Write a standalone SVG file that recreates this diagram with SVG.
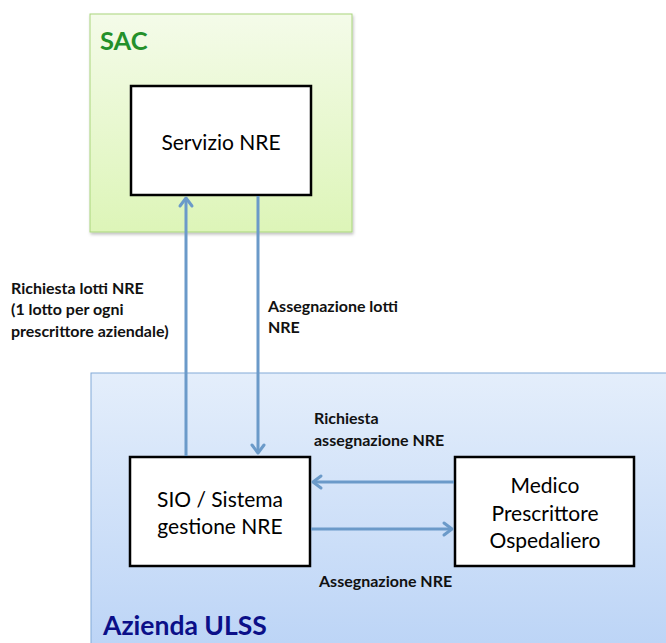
<svg xmlns="http://www.w3.org/2000/svg" width="666" height="643" viewBox="0 0 666 643">
<style>
.node{fill:#ffffff;stroke:#000000;stroke-width:2.5}
.ntxt{font-family:Lato,"Open Sans",sans-serif;font-size:21px;fill:#000;text-anchor:middle}
.lbl{font-family:Lato,"Open Sans",sans-serif;font-size:16px;font-weight:bold;fill:#111}
.conn{stroke:#6b9ac9;stroke-width:3;fill:none}
.ah{stroke:#6b9ac9;stroke-width:3;fill:none;stroke-linecap:round;stroke-linejoin:round}
</style>
<defs>
<linearGradient id="gSac" x1="0" y1="0" x2="0" y2="1">
<stop offset="0" stop-color="#f4fbe9"/>
<stop offset="1" stop-color="#ddf5b8"/>
</linearGradient>
<linearGradient id="gUlss" x1="0" y1="0" x2="0" y2="1">
<stop offset="0" stop-color="#e4eefb"/>
<stop offset="1" stop-color="#bad3f6"/>
</linearGradient>
<filter id="sh" x="-5%" y="-5%" width="110%" height="110%">
<feDropShadow dx="1" dy="2" stdDeviation="1.5" flood-color="#000" flood-opacity="0.25"/>
</filter>
</defs>
<g id="sac">
<rect x="90" y="14" width="262" height="218" fill="url(#gSac)" stroke="#a9d57c" stroke-width="1" filter="url(#sh)"/>
<text x="100" y="50" font-family="Lato,'Open Sans',sans-serif" font-size="25.5" font-weight="bold" fill="#23902a">SAC</text>
</g>
<g id="ulss">
<rect x="91" y="373" width="590" height="290" fill="url(#gUlss)" stroke="#82a9d8" stroke-width="1"/>
<text x="103" y="635" font-family="Lato,'Open Sans',sans-serif" font-size="26.5" font-weight="bold" fill="#0b0f88">Azienda ULSS</text>
</g>
<g id="servizio">
<rect class="node" x="131" y="86" width="180" height="109"/>
<text class="ntxt" x="221" y="150">Servizio NRE</text>
</g>
<g id="sio">
<rect class="node" x="130" y="457" width="180" height="109"/>
<text class="ntxt" x="220" y="507">SIO / Sistema</text>
<text class="ntxt" x="220" y="534">gestione NRE</text>
</g>
<g id="medico">
<rect class="node" x="455" y="457" width="179" height="109"/>
<text class="ntxt" x="545" y="493">Medico</text>
<text class="ntxt" x="545" y="521">Prescrittore</text>
<text class="ntxt" x="545" y="548">Ospedaliero</text>
</g>
<g id="connectors">
<line class="conn" x1="186" y1="456" x2="186" y2="199"/>
<polyline class="ah" points="180,206 186,198 192,206"/>
<line class="conn" x1="258" y1="196" x2="258" y2="453"/>
<polyline class="ah" points="252,445 258,453 264,445"/>
<line class="conn" x1="454" y1="482" x2="314" y2="482"/>
<polyline class="ah" points="321,476 313,482 321,488"/>
<line class="conn" x1="311" y1="529" x2="451" y2="529"/>
<polyline class="ah" points="444,523 452,529 444,535"/>
<text class="lbl" x="11" y="294">Richiesta lotti NRE</text>
<text class="lbl" x="11" y="315">(1 lotto per ogni</text>
<text class="lbl" x="11" y="337">prescrittore aziendale)</text>
<text class="lbl" x="268" y="312">Assegnazione lotti</text>
<text class="lbl" x="268" y="333">NRE</text>
<text class="lbl" x="314" y="424">Richiesta</text>
<text class="lbl" x="314" y="446">assegnazione NRE</text>
<text class="lbl" x="319" y="587">Assegnazione NRE</text>
</g>
</svg>
